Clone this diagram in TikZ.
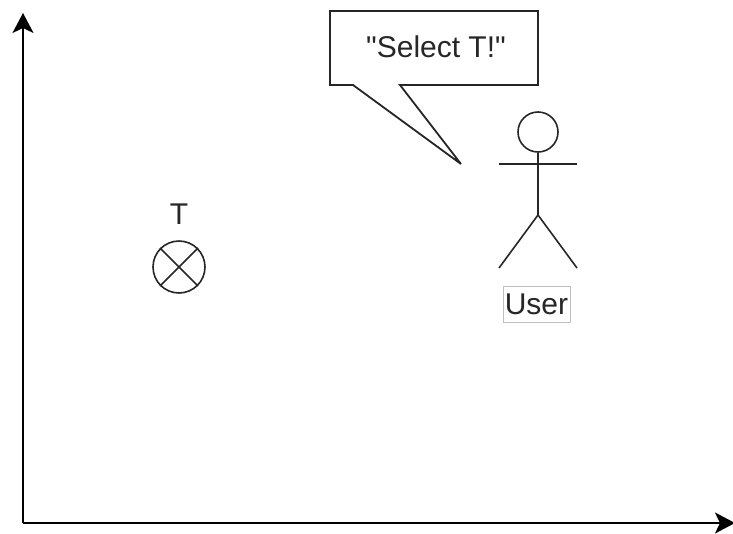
\documentclass[tikz,border=0pt]{standalone}
\usepackage{fontspec}
\setmainfont[Ligatures=TeXOff]{Liberation Sans}
\usetikzlibrary{arrows.meta}

\tikzset{
  axis/.style={line width=1.8pt, -{Stealth[length=20pt, width=21pt, inset=5pt]}},
  stick/.style={line width=1.6pt, black!85},
  label/.style={inner sep=0pt, font=\fontsize{30}{36}\selectfont, text=black!85},
}

\begin{document}
\begin{tikzpicture}[x=1pt, y=-1pt]
  \useasboundingbox (0, 0) rectangle (733, 533);

  %% axes
  \coordinate (origin) at (23, 523);
  \coordinate (top) at (23, 13);
  \coordinate (right) at (735, 523);
  \draw[axis] (origin) -- (top);
  \draw[axis] (origin) -- (right);

  %% target
  \node[draw, circle, stick, minimum size=52pt, inner sep=0pt] (target) at (179, 267) {};
  \draw[stick] (target.north west) -- (target.south east);
  \draw[stick] (target.north east) -- (target.south west);
  \node[label] (targetname) at (179, 214) {T};

  %% speech bubble
  \draw[line width=1.8pt, black!85, line join=miter, miter limit=3] (330, 11) -- (538, 11) -- (538, 85) -- (400, 85)
    -- (461, 164) -- (353, 85) -- (330, 85) -- cycle;
  \node[label] (speech) at (436, 47) {"Select T!"};

  %% user
  \node[draw, circle, stick, minimum size=40pt, inner sep=0pt] (head) at (538, 132) {};
  \coordinate (hip) at (538, 215);
  \coordinate (handl) at (499, 164);
  \coordinate (handr) at (577, 164);
  \coordinate (footl) at (499, 268);
  \coordinate (footr) at (577, 268);
  \draw[stick] (head.south) -- (hip);
  \draw[stick] (handl) -- (handr);
  \draw[stick] (footl) -- (hip) -- (footr);
  \node[label, draw=black!25, line width=0.8pt, minimum width=67pt, minimum height=36pt] (username) at (536.5, 304) {User};
\end{tikzpicture}
\end{document}
